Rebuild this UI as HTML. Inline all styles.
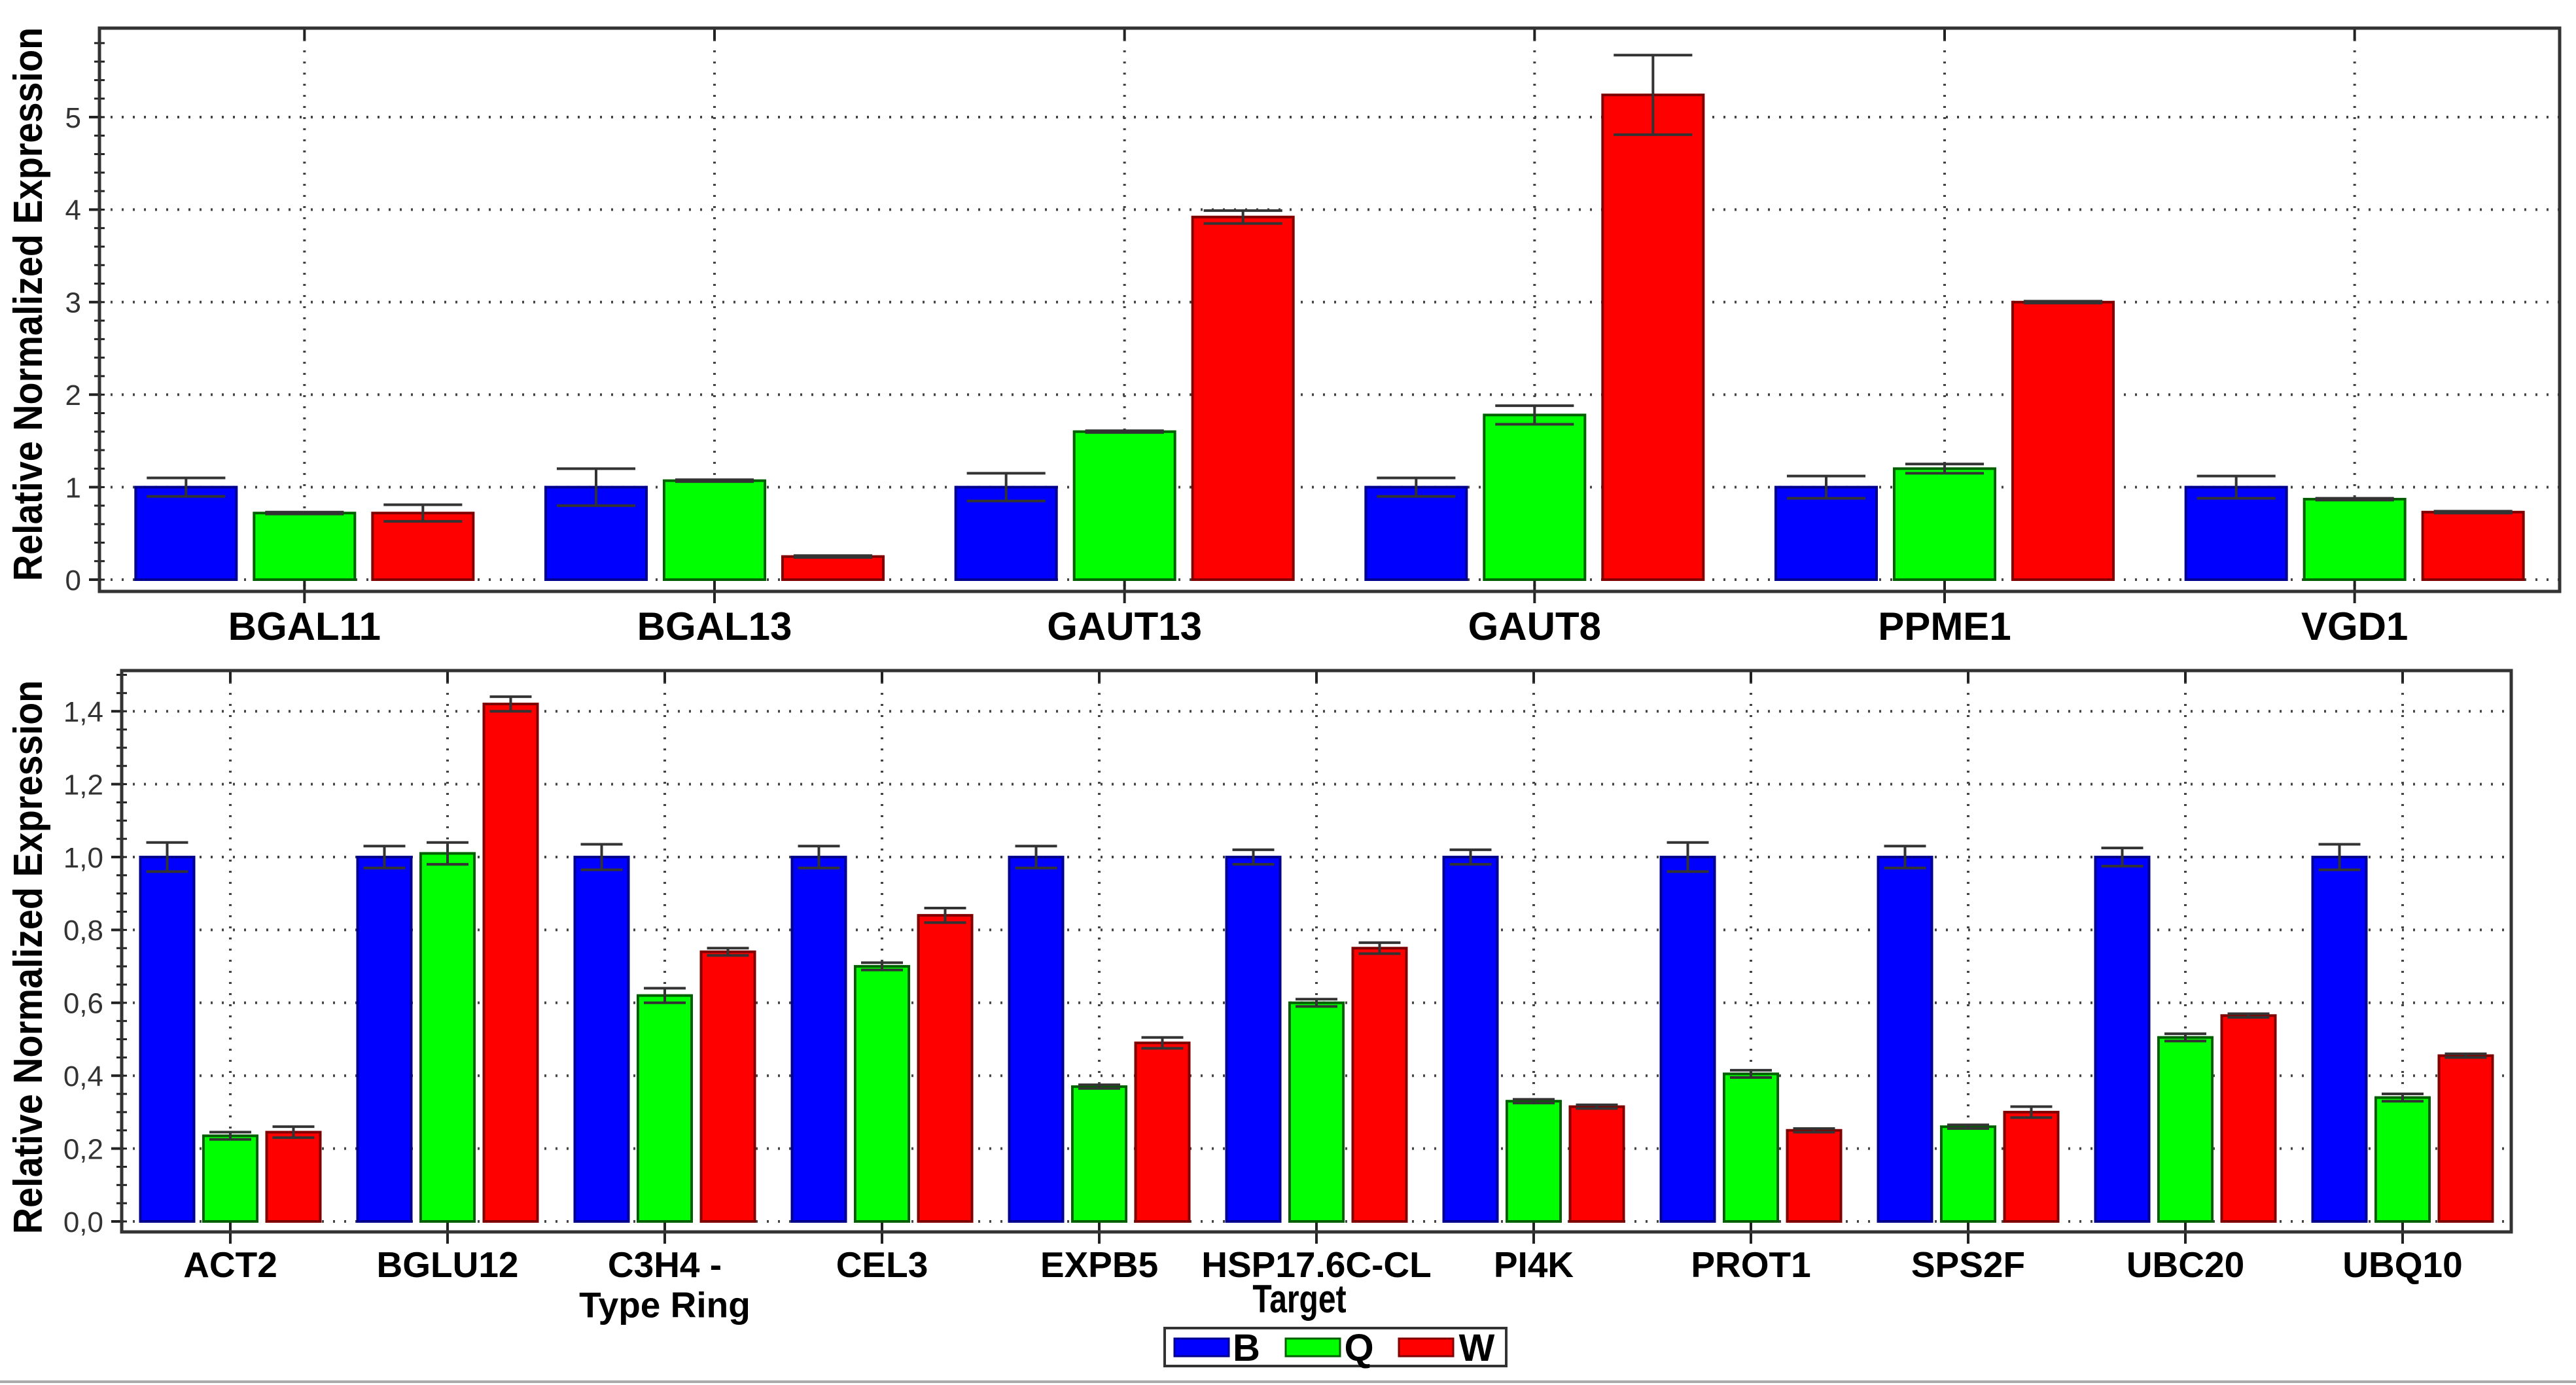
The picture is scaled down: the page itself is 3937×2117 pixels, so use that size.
<!DOCTYPE html>
<html><head><meta charset="utf-8"><style>
body{margin:0;background:#fff;}
svg{display:block;font-family:"Liberation Sans",Arial,sans-serif;}
</style></head><body>
<svg id="chart" width="3937" height="2117" viewBox="0 0 3937 2117">
<g id="top"></g>
<g id="bot"></g>
<g>
<rect x="1780" y="2030" width="522" height="58" fill="#fff" stroke="#333" stroke-width="4"/>
<g><rect x="1795" y="2046" width="83" height="27" fill="#0000ff" stroke="#000090" stroke-width="3"/><text x="1905" y="2080" font-size="58" font-weight="bold" text-anchor="middle">B</text></g>
<g><rect x="1965" y="2046" width="83" height="27" fill="#00ff00" stroke="#006000" stroke-width="3"/><text x="2077" y="2080" font-size="58" font-weight="bold" text-anchor="middle">Q</text></g>
<g><rect x="2138" y="2046" width="83" height="27" fill="#ff0000" stroke="#800000" stroke-width="3"/><text x="2257" y="2080" font-size="58" font-weight="bold" text-anchor="middle">W</text></g>
</g>
<text x="1986" y="2006" font-size="60" font-weight="bold" text-anchor="middle" transform="translate(1986 0) scale(0.8 1) translate(-1986 0)">Target</text>
<line x1="0" y1="2112" x2="3937" y2="2112" stroke="#aaa" stroke-width="4"/>
</svg>
<script>
const seriesNames = ["B","Q","W"];
const fills = ["#0000ff","#00ff00","#ff0000"];
const strokes = ["#000090","#006000","#800000"];

const topCats = ["BGAL11","BGAL13","GAUT13","GAUT8","PPME1","VGD1"];
const topB = [1,1,1,1,1,1];
const topQ = [0.72,1.07,1.6,1.78,1.2,0.87];
const topW = [0.72,0.25,3.92,5.24,3.0,0.73];
const topBErr = [0.1,0.2,0.15,0.1,0.12,0.12];
const topQErr = [0.01,0.01,0.01,0.1,0.05,0.01];
const topWErr = [0.09,0.01,0.07,0.43,0.01,0.01];
const topTicks = [0,1,2,3,4,5];
const topTickLabels = ["0","1","2","3","4","5"];

const botCats = ["ACT2","BGLU12","C3H4 -|Type Ring","CEL3","EXPB5","HSP17.6C-CL","PI4K","PROT1","SPS2F","UBC20","UBQ10"];
const botB = [1,1,1,1,1,1,1,1,1,1,1];
const botQ = [0.235,1.01,0.62,0.70,0.37,0.60,0.33,0.405,0.26,0.505,0.34];
const botW = [0.245,1.42,0.74,0.84,0.49,0.75,0.315,0.25,0.30,0.565,0.455];
const botBErr = [0.04,0.03,0.035,0.03,0.03,0.02,0.02,0.04,0.03,0.025,0.035];
const botQErr = [0.01,0.03,0.02,0.01,0.005,0.01,0.005,0.01,0.005,0.01,0.01];
const botWErr = [0.015,0.02,0.01,0.02,0.015,0.015,0.005,0.005,0.015,0.005,0.005];
const botTicks = [0,0.2,0.4,0.6,0.8,1.0,1.2,1.4];
const botTickLabels = ["0,0","0,2","0,4","0,6","0,8","1,0","1,2","1,4"];

const NS="http://www.w3.org/2000/svg";
function mk(parent,tag,attrs,text){const e=document.createElementNS(NS,tag);for(const k in attrs)e.setAttribute(k,attrs[k]);if(text!==undefined)e.textContent=text;parent.appendChild(e);return e;}

function panel(g,cfg){
  const {L,R,T,B,y0,ymax,cats,vals,errs,ticks,tickLabels,minor,barW,step,tickFont,catFont,catY,titleY,titleFont}=cfg;
  const y=v=>y0-(y0-T)*v/ymax;
  const band=(R-L)/cats.length;
  const cx=i=>L+band*(i+0.5);
  ticks.forEach((t,i)=>{
    const gl=mk(g,'line',{x1:L,x2:R,y1:y(t),y2:y(t),stroke:'#444','stroke-width':4,'stroke-dasharray':'3 14'});
    
    
    const tk=mk(g,'line',{x1:L-16,x2:L,y1:y(t),y2:y(t),stroke:'#222','stroke-width':4});
    
    
    const tl=mk(g,'text',{x:L-28,y:y(t)+tickFont*0.36,'font-size':tickFont,'text-anchor':'end',fill:'#333'},tickLabels[i]);
    
    
  });
  for(let v=0;v<=ymax+1e-9;v+=minor){
    const m=mk(g,'line',{x1:L-8,x2:L+8,y1:y(v),y2:y(v),stroke:'#222','stroke-width':3});
    
    
  }
  cats.forEach((c,i)=>{
    const vl=mk(g,'line',{x1:cx(i),x2:cx(i),y1:T,y2:B,stroke:'#444','stroke-width':4,'stroke-dasharray':'3 14'});
    
    
    const t1=mk(g,'line',{x1:cx(i),x2:cx(i),y1:T,y2:T+18,stroke:'#222','stroke-width':4});
    
    
    const t2=mk(g,'line',{x1:cx(i),x2:cx(i),y1:B-18,y2:B+18,stroke:'#222','stroke-width':4});
    
    
  });
  cats.forEach((c,i)=>{
    for(let s=0;s<3;s++){
      const v=vals[s][i], e=errs[s][i];
      const x=cx(i)+(s-1)*step-barW/2;
      const r=mk(g,'rect',{x:x,y:y(v),width:barW,height:y0-y(v),fill:fills[s],stroke:strokes[s],'stroke-width':4});
      
      
      const bx=cx(i)+(s-1)*step, cw=barW*0.78;
      const eg=mk(g,'g',{stroke:'#333','stroke-width':4});
      
      
      mk(eg,'line',{x1:bx,x2:bx,y1:y(v+e),y2:y(v-e)});
      mk(eg,'line',{x1:bx-cw/2,x2:bx+cw/2,y1:y(v+e),y2:y(v+e)});
      mk(eg,'line',{x1:bx-cw/2,x2:bx+cw/2,y1:y(v-e),y2:y(v-e)});
    }
    const lines=c.split('|');
    lines.forEach((ln,k)=>{
      const t=mk(g,'text',{x:cx(i),y:catY+k*catFont*1.12,'font-size':catFont,'font-weight':'bold','text-anchor':'middle'},ln);
      
      
    });
  });
  const fr=mk(g,'rect',{x:L,y:T,width:R-L,height:B-T,fill:'none',stroke:'#333','stroke-width':5});
  
  
  const ty=mk(g,'text',{x:0,y:0,'font-size':titleFont,'font-weight':'bold','text-anchor':'middle',transform:`translate(64 ${titleY}) rotate(-90) scale(0.9 1)`},'Relative Normalized Expression');
  
  
}

panel(document.getElementById('top'),{L:152,R:3912,T:43,B:904,y0:886,ymax:(886-43)/141.4,cats:topCats,
  vals:[topB,topQ,topW],errs:[topBErr,topQErr,topWErr],ticks:topTicks,tickLabels:topTickLabels,minor:0.2,
  barW:154,step:181,tickFont:44,catFont:60,catY:978,titleY:465,titleFont:62});
panel(document.getElementById('bot'),{L:186,R:3838,T:1025,B:1883,y0:1867,ymax:(1867-1025)/557,cats:botCats,
  vals:[botB,botQ,botW],errs:[botBErr,botQErr,botWErr],ticks:botTicks,tickLabels:botTickLabels,minor:0.05,
  barW:82,step:96.5,tickFont:44,catFont:55,catY:1952,titleY:1463,titleFont:62});
</script>
</body></html>
